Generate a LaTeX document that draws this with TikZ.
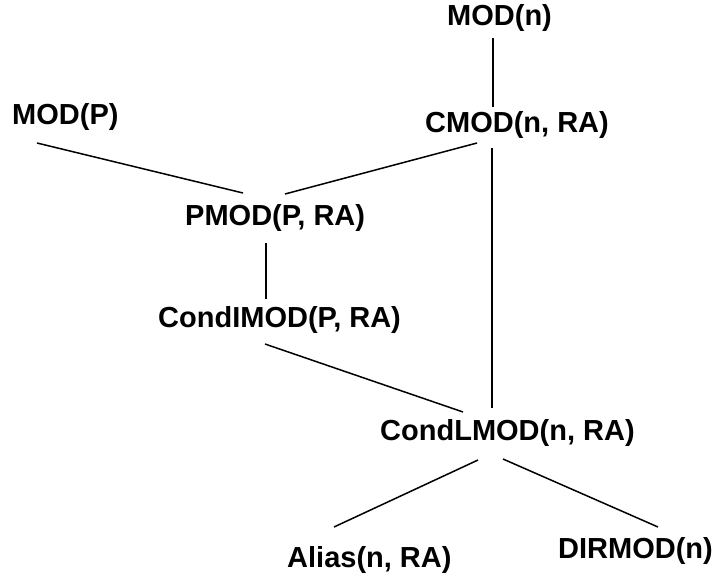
\documentclass[tikz,border=0pt]{standalone}
\usepackage{fontspec}
\setmainfont{Liberation Sans}
\begin{document}
\begin{tikzpicture}[x={(1pt,0)},y={(0,-1pt)},
  lbl/.style={anchor=base west,inner sep=0pt,font=\fontsize{29}{31}\selectfont\bfseries},
  link/.style={line width=1.5pt}]
\useasboundingbox (0,0) rectangle (712,576);
\node[lbl] (modn) at (447,25) {MOD(n)};
\node[lbl] (cmod) at (425,132) {CMOD(n, RA)};
\node[lbl] (modp) at (12,124) {MOD(P)};
\node[lbl] (pmod) at (185,225) {PMOD(P, RA)};
\node[lbl] (condi) at (158,327) {CondIMOD(P, RA)};
\node[lbl] (condl) at (380,440) {CondLMOD(n, RA)};
\node[lbl] (alias) at (287,567) {Alias(n, RA)};
\node[lbl] (dirmod) at (558,558) {DIRMOD(n)};
\draw[link] ([shift={(46,13)}]modn.base west) -- ([shift={(68,-25)}]cmod.base west);
\draw[link] ([shift={(25,19)}]modp.base west) -- ([shift={(58,-32)}]pmod.base west);
\draw[link] ([shift={(52,11)}]cmod.base west) -- ([shift={(100,-31)}]pmod.base west);
\draw[link] ([shift={(67,16)}]cmod.base west) -- ([shift={(112,-32)}]condl.base west);
\draw[link] ([shift={(81,18)}]pmod.base west) -- ([shift={(108,-28)}]condi.base west);
\draw[link] ([shift={(107,17)}]condi.base west) -- ([shift={(83,-28)}]condl.base west);
\draw[link] ([shift={(98,20)}]condl.base west) -- ([shift={(47,-40)}]alias.base west);
\draw[link] ([shift={(123,19)}]condl.base west) -- ([shift={(100,-31)}]dirmod.base west);
\end{tikzpicture}
\end{document}
